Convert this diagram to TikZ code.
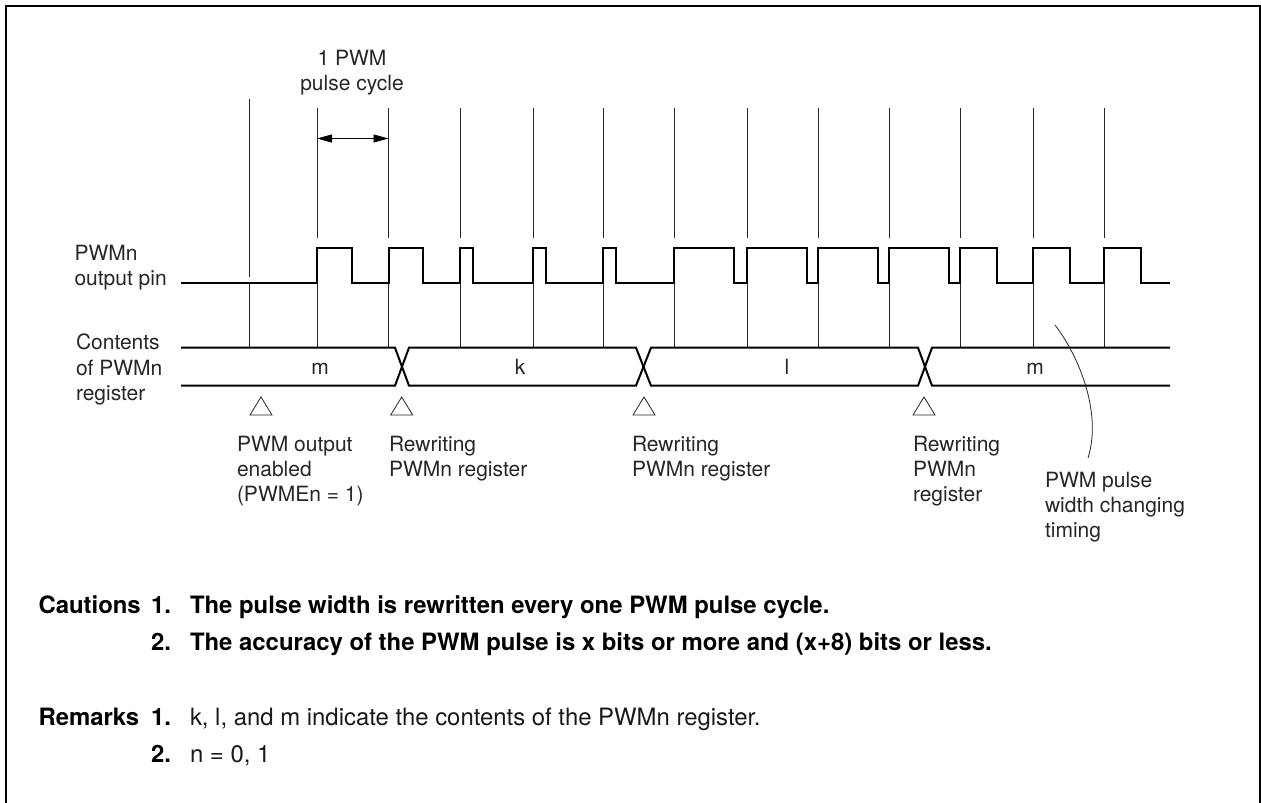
\documentclass[tikz,border=0pt]{standalone}
\usepackage{fontspec}
\setmainfont{TeX Gyre Heros}
\usetikzlibrary{arrows.meta}
\tikzset{
  lab/.style={anchor=base west,inner sep=0pt,outer sep=0pt,font=\fontsize{21}{25}\selectfont,text=black!85},
  labc/.style={lab,anchor=base},
  boldt/.style={anchor=base west,inner sep=0pt,outer sep=0pt,font=\fontsize{23.9}{28}\selectfont\bfseries},
  regt/.style={anchor=base west,inner sep=0pt,outer sep=0pt,font=\fontsize{23.9}{28}\selectfont,text=black!90},
  sig/.style={line width=2pt,line join=miter},
  thin line/.style={line width=1pt,black!85},
  frameline/.style={line width=2pt},
  mark tri/.style={line width=0.8pt,black!85}
}
\begin{document}
\begin{tikzpicture}[x=1pt,y=-1pt]
\useasboundingbox (0,0) rectangle (1261,803);
\draw[frameline] (6,803) -- (6,6) -- (1260,6) -- (1260,803);
% clock lines
\draw[thin line] (249.5,99) -- (249.5,277) (249.5,283) -- (249.5,347);
\foreach \x in {317,388.5,460,533,603,674,747,818,889,960,1033,1104}{
  \draw[thin line] (\x,108) -- (\x,238);
  \draw[thin line] (\x,283) -- (\x,347);
}
% arrow
\coordinate (al) at (317,138.5);
\coordinate (ar) at (388.5,138.5);
\draw[line width=0.8pt,{Stealth[length=15pt,width=8pt,inset=0pt]}-{Stealth[length=15pt,width=8pt,inset=0pt]}] (al) -- (ar);
% PWM output
\draw[sig] (181,283) -- (317,283) |- (351.5,247.5) |- (388.5,283) |- (423,247.5) |- (460,283) |- (472.5,247.5) |- (533,283)
 |- (546,247.5) |- (603,283) |- (615.5,247.5) |- (674,283) |- (734,247.5) |- (747,283) |- (806.5,247.5) |- (818,283)
 |- (877.5,247.5) |- (889,283) |- (949,247.5) |- (960,283) |- (997,247.5) |- (1033,283) |- (1070,247.5) |- (1104,283)
 |- (1141,247.5) |- (1170,283);
% bus
\draw[sig] (181,347.7) -- (395,347.7) -- (409,385.7) -- (636,385.7) -- (651,347.7) -- (918,347.7) -- (932,385.7) -- (1170,385.7);
\draw[sig] (181,385.7) -- (395,385.7) -- (409,347.7) -- (636,347.7) -- (651,385.7) -- (918,385.7) -- (932,347.7) -- (1170,347.7);
% triangles
\foreach \x in {261,401.7,644,924}{
  \draw[mark tri] (\x-11,415) -- (\x,397) -- (\x+11,415) -- cycle;
}
% curve
\coordinate (cs) at (1055,325);
\coordinate (ce) at (1088,458);
\draw[line width=0.8pt,black!85] (cs) .. controls (1076,352) and (1103,410) .. (ce);
% labels
\node[labc] (t1) at (352,65.5) {1 PWM};
\node[labc] (t2) at (352,90.5) {pulse cycle};
\node[lab] (p1) at (74.5,260) {PWMn};
\node[lab] (p2) at (74.5,285) {output pin};
\node[lab] (c1) at (76,349) {Contents};
\node[lab] (c2) at (76,375) {of PWMn};
\node[lab] (c3) at (76,400) {register};
\node[labc] (vm1) at (320,374) {m};
\node[labc] (vk) at (520,374) {k};
\node[labc] (vl) at (787,374) {l};
\node[labc] (vm2) at (1035,374) {m};
\node[lab] (e1) at (237,451) {PWM output};
\node[lab] (e2) at (237,476) {enabled};
\node[lab] (e3) at (237,501) {(PWMEn = 1)};
\node[lab] (r1) at (389,451) {Rewriting};
\node[lab] (r2) at (389,476) {PWMn register};
\node[lab] (s1) at (632,451) {Rewriting};
\node[lab] (s2) at (632,476) {PWMn register};
\node[lab] (u1) at (913,451) {Rewriting};
\node[lab] (u2) at (913,476) {PWMn};
\node[lab] (u3) at (913,501) {register};
\node[lab] (w1) at (1045,487) {PWM pulse};
\node[lab] (w2) at (1045,512) {width changing};
\node[lab] (w3) at (1045,537) {timing};
% notes
\node[boldt] (n1) at (38.5,613) {Cautions};
\node[boldt] (n2) at (151,613) {1.};
\node[boldt] (n3) at (190,613) {The pulse width is rewritten every one PWM pulse cycle.};
\node[boldt] (n4) at (151,650.5) {2.};
\node[boldt] (n5) at (190,650.5) {The accuracy of the PWM pulse is x bits or more and (x+8) bits or less.};
\node[boldt] (n6) at (38.5,725.5) {Remarks};
\node[boldt] (n7) at (151,725.5) {1.};
\node[regt] (n8) at (190,725.5) {k, l, and m indicate the contents of the PWMn register.};
\node[boldt] (n9) at (151,762.5) {2.};
\node[regt] (n10) at (190,762.5) {n = 0, 1};
\end{tikzpicture}
\end{document}
